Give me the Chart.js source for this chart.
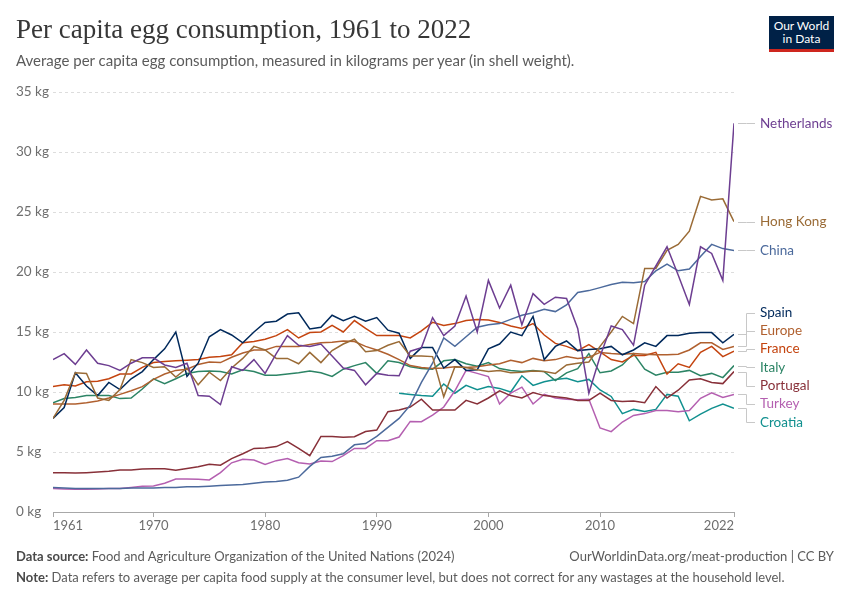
<!DOCTYPE html>
<html>
<head>
<meta charset="utf-8">
<title>Per capita egg consumption, 1961 to 2022</title>
<script src="https://cdn.jsdelivr.net/npm/chart.js@4.4.1/dist/chart.umd.min.js"></script>
<style>
    body { margin: 0; background: #fff; font-family: Lato, sans-serif; }
    #wrap { position: relative; width: 850px; height: 600px; overflow: hidden; }
    #chart { position: absolute; left: 0; top: 0; }
    #title { position: absolute; left: 16px; top: 13px; margin: 0; font-family: "Liberation Serif", serif; font-weight: 400; font-size: 27px; line-height: 32px; color: #373737; white-space: nowrap; }
    #subtitle { position: absolute; left: 16px; top: 51px; font-size: 15px; line-height: 18px; color: #5b5b5b; white-space: nowrap; }
    #logo { position: absolute; left: 769px; top: 16px; width: 65px; background: #002147; border-bottom: 3px solid #ce261e; color: #fff; text-align: center; font-size: 12px; line-height: 13px; padding-top: 3px; box-sizing: content-box; height: 30px; }
    .foot { position: absolute; font-size: 13px; line-height: 16px; color: #5b5b5b; white-space: nowrap; }
    .foot b { font-weight: 700; color: #4a4a4a; }
</style>
</head>
<body>
<div id="wrap">
    <canvas id="chart" width="850" height="600"></canvas>
    <h1 id="title">Per capita egg consumption, 1961 to 2022</h1>
    <div id="subtitle">Average per capita egg consumption, measured in kilograms per year (in shell weight).</div>
    <div id="logo">Our World<br>in Data</div>
    <div class="foot" style="left:16px;top:548px"><b>Data source:</b> Food and Agriculture Organization of the United Nations (2024)</div>
    <div class="foot" style="right:16px;top:548px">OurWorldinData.org/meat-production | CC BY</div>
    <div class="foot" style="left:16px;top:569px"><b>Note:</b> Data refers to average per capita food supply at the consumer level, but does not correct for any wastages at the household level.</div>
</div>
<script>
// Years and tick labels
const years = [1961, 1962, 1963, 1964, 1965, 1966, 1967, 1968, 1969, 1970,
    1971, 1972, 1973, 1974, 1975, 1976, 1977, 1978, 1979, 1980,
    1981, 1982, 1983, 1984, 1985, 1986, 1987, 1988, 1989, 1990,
    1991, 1992, 1993, 1994, 1995, 1996, 1997, 1998, 1999, 2000,
    2001, 2002, 2003, 2004, 2005, 2006, 2007, 2008, 2009, 2010,
    2011, 2012, 2013, 2014, 2015, 2016, 2017, 2018, 2019, 2020,
    2021, 2022];
const xTicks = [1961, 1970, 1980, 1990, 2000, 2010, 2022];
const yTicks = [0, 5, 10, 15, 20, 25, 30, 35];

// kg per person per year
const netherlands = [12.7, 13.2, 12.3, 13.5, 12.4, 12.2, 11.8, 12.4, 12.85, 12.85,
    12.25, 12.05, 12.4, 9.7, 9.65, 8.95, 12.1, 11.8, 12.7, 11.55,
    13.2, 14.7, 13.9, 13.8, 14.0, 13.0, 12.0, 11.8, 10.6, 11.55,
    11.4, 11.35, 13.4, 13.7, 16.2, 14.7, 15.5, 18.0, 15.0, 19.3,
    17.0, 18.9, 15.6, 18.2, 17.3, 17.9, 17.8, 15.3, 9.9, 12.95,
    15.5, 15.2, 13.9, 18.9, 20.5, 22.1, 19.75, 17.3, 22.1, 21.55,
    19.3, 32.4];
const hongKong = [7.8, 9.3, 11.6, 11.55, 9.5, 9.3, 10.2, 12.7, 12.45, 12.05,
    12.1, 11.25, 12.0, 10.6, 11.65, 10.95, 12.0, 12.8, 13.8, 13.5,
    12.8, 12.8, 12.35, 13.3, 12.45, 13.45, 14.0, 14.4, 13.35, 13.45,
    13.9, 14.2, 13.0, 13.0, 12.95, 9.6, 12.1, 12.05, 11.85, 11.7,
    11.8, 11.6, 11.65, 11.75, 11.7, 11.55, 12.25, 12.4, 12.5, 13.8,
    15.0, 16.3, 15.7, 20.3, 20.3, 21.8, 22.3, 23.4, 26.3, 26.0,
    26.1, 24.2];
const china = [2.05, 2.0, 1.95, 1.95, 1.95, 1.95, 1.95, 2.0, 2.0, 2.0,
    2.05, 2.05, 2.1, 2.1, 2.15, 2.2, 2.25, 2.3, 2.4, 2.5,
    2.55, 2.65, 2.9, 3.8, 4.55, 4.65, 4.85, 5.6, 5.7, 6.3,
    7.05, 7.8, 8.9, 10.8, 12.4, 14.5, 13.8, 14.6, 15.4, 15.6,
    15.7, 16.05, 16.4, 16.6, 16.9, 16.7, 17.25, 18.3, 18.45, 18.7,
    18.95, 19.15, 19.1, 19.2, 20.1, 20.65, 20.1, 20.25, 21.3, 22.3,
    21.95, 21.8];
const spain = [7.8, 8.7, 11.6, 10.5, 9.7, 10.8, 10.2, 11.1, 11.7, 12.7,
    13.6, 15.0, 11.3, 12.4, 14.6, 15.2, 14.75, 14.1, 15.0, 15.8,
    15.9, 16.5, 16.6, 15.25, 15.4, 16.4, 15.95, 16.3, 15.9, 16.2,
    15.15, 14.9, 12.8, 13.7, 13.7, 12.0, 12.7, 11.8, 11.85, 13.6,
    14.0, 15.0, 14.7, 16.3, 12.7, 13.8, 14.25, 13.45, 13.55, 13.6,
    13.8, 13.1, 13.5, 14.1, 13.8, 14.7, 14.7, 14.9, 14.95, 14.95,
    14.1, 14.8];
const europe = [9.0, 9.0, 9.0, 9.1, 9.25, 9.5, 9.8, 10.1, 10.45, 11.05,
    11.5, 11.8, 11.9, 12.3, 12.5, 12.45, 12.9, 13.25, 13.5, 13.5,
    13.8, 13.8, 13.8, 13.95, 14.1, 14.15, 14.25, 14.2, 13.8, 13.5,
    13.15, 12.7, 12.2, 12.05, 11.95, 12.0, 12.1, 12.05, 12.1, 12.25,
    12.35, 12.65, 12.45, 12.8, 12.6, 12.7, 12.95, 12.8, 12.9, 13.3,
    13.2, 13.15, 13.2, 13.15, 13.1, 13.1, 13.15, 13.5, 14.1, 14.1,
    13.55, 13.8];
const france = [10.45, 10.6, 10.5, 10.85, 10.9, 11.1, 11.5, 11.5, 12.05, 12.45,
    12.55, 12.6, 12.65, 12.7, 12.9, 12.95, 13.1, 14.1, 14.2, 14.4,
    14.7, 15.2, 14.5, 14.95, 15.0, 15.55, 15.0, 15.95, 15.3, 14.7,
    14.7, 14.7, 14.5, 15.1, 15.8, 15.55, 15.7, 15.95, 16.05, 16.0,
    15.8, 15.5, 15.3, 15.7, 14.75, 14.05, 13.8, 13.45, 13.95, 13.35,
    12.7, 12.5, 13.05, 13.05, 13.3, 11.5, 12.35, 12.05, 13.3, 13.8,
    12.95, 13.4];
const italy = [9.1, 9.45, 9.55, 9.7, 9.7, 9.7, 9.45, 9.5, 10.25, 11.1,
    10.7, 11.1, 11.55, 11.7, 11.75, 11.7, 11.5, 11.85, 11.7, 11.4,
    11.4, 11.5, 11.6, 11.75, 11.6, 11.3, 11.9, 12.2, 12.45, 11.55,
    12.6, 12.45, 12.1, 11.95, 11.9, 12.6, 12.7, 12.35, 12.15, 12.45,
    11.95, 11.8, 11.7, 11.8, 11.7, 10.95, 11.6, 11.95, 13.2, 11.6,
    11.75, 12.25, 13.2, 11.9, 11.4, 11.65, 11.65, 11.8, 11.35, 11.55,
    11.2, 12.2];
const portugal = [3.28, 3.28, 3.25, 3.28, 3.33, 3.4, 3.5, 3.5, 3.58, 3.6,
    3.6, 3.47, 3.62, 3.78, 3.98, 3.9, 4.45, 4.85, 5.3, 5.33,
    5.45, 5.86, 5.3, 4.7, 6.3, 6.3, 6.22, 6.28, 6.7, 6.83,
    8.36, 8.5, 8.75, 9.4, 8.5, 8.5, 8.5, 9.3, 9.0, 9.5,
    10.1, 9.7, 9.5, 9.95, 9.7, 9.6, 9.5, 9.3, 9.3, 9.9,
    9.3, 9.2, 9.25, 9.1, 10.45, 9.5, 10.15, 11.0, 11.1, 10.8,
    10.7, 11.7];
const turkey = [1.95, 1.92, 1.9, 1.9, 1.92, 1.95, 1.95, 2.05, 2.15, 2.17,
    2.4, 2.75, 2.75, 2.72, 2.67, 3.28, 4.1, 4.4, 4.33, 3.97,
    4.28, 4.45, 4.1, 4.0, 4.25, 4.2, 4.7, 5.3, 5.3, 5.94,
    5.94, 6.25, 7.55, 7.53, 8.08, 8.75, 10.1, 11.8, 11.55, 11.28,
    9.0, 9.9, 10.4, 9.0, 9.8, 9.5, 9.4, 9.35, 9.4, 7.0,
    6.7, 7.5, 8.05, 8.2, 8.45, 8.45, 8.36, 8.45, 9.47, 9.94,
    9.55, 9.8];
// Croatia only from 1992
const croatia = [null, null, null, null, null, null, null, null, null, null,
    null, null, null, null, null, null, null, null, null, null,
    null, null, null, null, null, null, null, null, null, null,
    null, 9.9, 9.8, 9.7, 9.65, 10.67, 9.9, 10.55, 10.2, 10.45,
    10.3, 10.0, 11.35, 10.55, 10.86, 11.05, 11.15, 10.86, 11.05, 10.17,
    9.63, 8.2, 8.55, 8.38, 8.55, 9.8, 9.65, 7.6, 8.15, 8.64,
    9.0, 8.64];

const seriesNames = ["Netherlands", "Hong Kong", "China", "Spain", "Europe", "France", "Italy", "Portugal", "Turkey", "Croatia"];
const seriesValues = [netherlands, hongKong, china, spain, europe, france, italy, portugal, turkey, croatia];
const seriesColors = ["#6d3e91", "#9a6b36", "#4c6a9c", "#00295b", "#b0602f", "#c4440f", "#2c8465", "#883039", "#b45fb0", "#11908f"];

// Spread the end labels so they don't overlap, keeping groups centred on their lines
function placeLabels(items, gap) {
    items.sort((a, b) => a.target - b.target);
    let groups = items.map(it => ({ members: [it] }));
    let merged = true;
    while (merged) {
        merged = false;
        groups.forEach(g => {
            const mean = g.members.reduce((s, m) => s + m.target, 0) / g.members.length;
            g.start = mean - (g.members.length - 1) * gap / 2;
        });
        for (let i = 0; i < groups.length - 1; i++) {
            const a = groups[i], b = groups[i + 1];
            if (a.start + a.members.length * gap > b.start) {
                a.members = a.members.concat(b.members);
                groups.splice(i + 1, 1);
                merged = true;
                break;
            }
        }
    }
    groups.forEach(g => g.members.forEach((m, i) => { m.y = g.start + i * gap; }));
}

const endLabels = {
    id: "endLabels",
    afterDatasetsDraw(chart) {
        const { ctx, chartArea } = chart;
        const items = chart.data.datasets.map((ds, i) => {
            const pts = chart.getDatasetMeta(i).data;
            return { label: ds.label, color: ds.borderColor, target: pts[pts.length - 1].y };
        });
        placeLabels(items, 18.3);

        const x0 = chartArea.right + 4, mid = chartArea.right + 12, x1 = chartArea.right + 21;
        ctx.save();
        ctx.strokeStyle = "#c8c8c8";
        ctx.lineWidth = 1;
        ctx.font = "13.5px Lato";
        ctx.textBaseline = "middle";
        items.forEach(it => {
            const ty = Math.round(it.target) + 0.5, ly = Math.round(it.y) + 0.5;
            ctx.beginPath();
            ctx.moveTo(x0, ty);
            ctx.lineTo(mid + 0.5, ty);
            ctx.lineTo(mid + 0.5, ly);
            ctx.lineTo(x1, ly);
            ctx.stroke();
            ctx.fillStyle = it.color;
            ctx.fillText(it.label, chartArea.right + 26, it.y);
        });
        ctx.restore();
    }
};

// First and last year labels sit inside the axis ends, the rest are centred
const xLabels = {
    id: "xLabels",
    afterDraw(chart) {
        const scale = chart.scales.x;
        const ctx = chart.ctx;
        ctx.save();
        ctx.font = "13px Lato";
        ctx.fillStyle = "#6e6e6e";
        ctx.textBaseline = "top";
        scale.ticks.forEach((t, i) => {
            const px = scale.getPixelForValue(t.value);
            ctx.textAlign = i === 0 ? "left" : (i === scale.ticks.length - 1 ? "right" : "center");
            ctx.fillText(String(t.value), px, scale.top + 7);
        });
        ctx.restore();
    }
};

function drawChart() {
    const datasets = seriesNames.map((name, i) => ({
        label: name,
        data: years.map((yr, j) => ({ x: yr, y: seriesValues[i][j] })),
        borderColor: seriesColors[i],
        backgroundColor: seriesColors[i],
        borderWidth: 1.5,
        pointRadius: 0,
        tension: 0,
        spanGaps: false
    }));

    new Chart(document.querySelector("#chart"), {
        type: "line",
        data: { datasets },
        options: {
            responsive: false,
            animation: false,
            events: [],
            layout: { padding: { left: 16, right: 116, top: 92, bottom: 68 } },
            plugins: { legend: { display: false }, tooltip: { enabled: false } },
            scales: {
                x: {
                    type: "linear",
                    min: years[0],
                    max: years[years.length - 1],
                    afterBuildTicks: s => { s.ticks = xTicks.map(v => ({ value: v })); },
                    afterFit: s => { s.height = 20; },
                    ticks: { display: false },
                    grid: { drawOnChartArea: false, drawTicks: true, tickLength: 5, color: "#a8a8a8" },
                    border: { color: "#a8a8a8" }
                },
                y: {
                    min: yTicks[0],
                    max: yTicks[yTicks.length - 1],
                    afterBuildTicks: s => { s.ticks = yTicks.map(v => ({ value: v })); },
                    afterFit: s => { s.width = 37; },
                    ticks: {
                        crossAlign: "far",
                        padding: 0,
                        color: "#6e6e6e",
                        font: { family: "Lato", size: 13.5 },
                        callback: v => v + " kg"
                    },
                    grid: { color: "#dddddd", drawTicks: false },
                    border: { display: false, dash: [3, 3] }
                }
            }
        },
        plugins: [endLabels, xLabels]
    });
}

document.addEventListener("DOMContentLoaded", function () {
    Promise.all([document.fonts.load("13px Lato"), document.fonts.load("bold 13px Lato")])
        .catch(() => {})
        .then(drawChart);
});
</script>
</body>
</html>
